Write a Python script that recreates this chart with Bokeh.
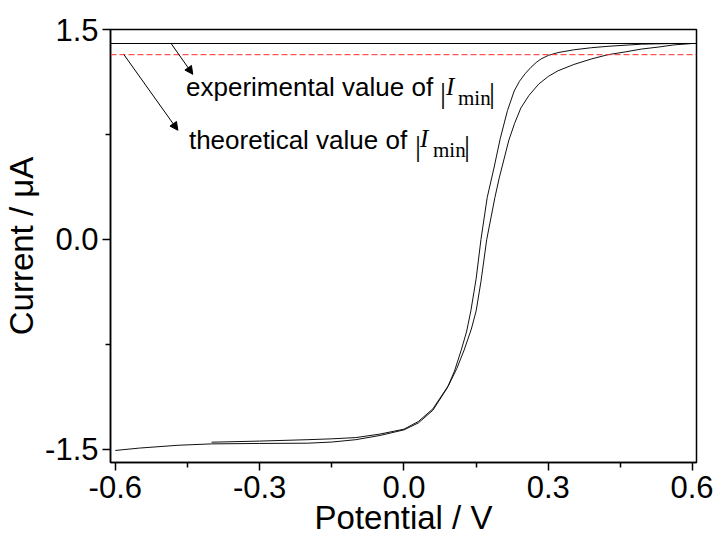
from bokeh.plotting import figure
from bokeh.models import (Range1d, FixedTicker, Span, Arrow, NormalHead, Label)
from bokeh.embed import file_html
from bokeh.resources import INLINE

# ---------------- data ----------------
fwd_x = [-0.40, -0.30, -0.20, -0.15, -0.10, -0.05, 0.00, 0.03, 0.06, 0.093, 0.11,
         0.125, 0.14, 0.15, 0.16, 0.172, 0.189, 0.198, 0.218, 0.23, 0.243, 0.26,
         0.28, 0.30, 0.32, 0.353, 0.39, 0.424, 0.46, 0.493, 0.53, 0.561, 0.60]
fwd_y = [-1.448, -1.44, -1.43, -1.424, -1.415, -1.39, -1.355, -1.30, -1.21, -1.04, -0.92,
         -0.79, -0.64, -0.51, -0.30, 0.0, 0.30, 0.44, 0.71, 0.83, 0.94, 1.03,
         1.11, 1.165, 1.205, 1.25, 1.29, 1.32, 1.34, 1.36, 1.375, 1.39, 1.40]

rev_x = [0.60, 0.56, 0.493, 0.424, 0.39, 0.353, 0.32, 0.30, 0.285, 0.275, 0.264,
         0.252, 0.24, 0.229, 0.215, 0.20, 0.187, 0.173, 0.16, 0.15, 0.139, 0.13,
         0.119, 0.105, 0.09, 0.06, 0.03, 0.00, -0.05, -0.10, -0.15, -0.20, -0.30,
         -0.40, -0.47, -0.55, -0.60]
rev_y = [1.40, 1.40, 1.395, 1.38, 1.37, 1.355, 1.335, 1.315, 1.29, 1.265, 1.23,
         1.185, 1.13, 1.06, 0.92, 0.72, 0.51, 0.30, 0.0, -0.28, -0.51, -0.66,
         -0.79, -0.94, -1.06, -1.22, -1.31, -1.36, -1.40, -1.43, -1.447, -1.455, -1.457,
         -1.46, -1.47, -1.49, -1.507]

exp_imin = 1.40     # experimental value of |I_min|
theo_imin = 1.32    # theoretical value of |I_min|

x_ticks = [-0.6, -0.3, 0.0, 0.3, 0.6]
x_tick_labels = ["-0.6", "-0.3", "0.0", "0.3", "0.6"]
x_minor = [-0.45, -0.15, 0.15, 0.45]
y_ticks = [-1.5, 0.0, 1.5]
y_tick_labels = ["-1.5", "0.0", "1.5"]
y_minor = [-0.75, 0.75]

x_label = "Potential / V"
y_label = "Current / \u03bcA"
exp_text = "experimental value of"
theo_text = "theoretical value of"

FONT = "Liberation Sans"
SERIF = "Liberation Serif"

p = figure(width=713, height=541, output_backend="svg", toolbar_location=None,
           x_range=Range1d(-0.61, 0.608), y_range=Range1d(-1.593, 1.5),
           min_border_left=110, min_border_right=17, min_border_top=29,
           min_border_bottom=79)
p.background_fill_color = "white"
p.border_fill_color = "white"
p.outline_line_color = "black"
p.outline_line_width = 1.5
p.xgrid.visible = False
p.ygrid.visible = False

for ax, ticks, labels, minor, title in ((p.xaxis[0], x_ticks, x_tick_labels, x_minor, x_label),
                                        (p.yaxis[0], y_ticks, y_tick_labels, y_minor, y_label)):
    ax.ticker = FixedTicker(ticks=ticks, minor_ticks=minor)
    ax.major_label_overrides = {t: s for t, s in zip(ticks, labels)}
    ax.axis_label = title
    ax.axis_label_text_font = FONT
    ax.axis_label_text_font_size = "33px"
    ax.axis_label_text_font_style = "normal"
    ax.axis_label_text_color = "black"
    ax.major_label_text_font = FONT
    ax.major_label_text_font_size = "31px"
    ax.major_label_text_color = "black"
    ax.axis_line_color = "black"
    ax.axis_line_width = 1.5
    ax.major_tick_line_color = "black"
    ax.major_tick_line_width = 1.5
    ax.minor_tick_line_color = "black"
    ax.minor_tick_line_width = 1.5
    ax.major_tick_out = 8
    ax.major_tick_in = 0
    ax.minor_tick_out = 5
    ax.minor_tick_in = 0

p.xaxis[0].major_label_standoff = 5
p.xaxis[0].axis_label_standoff = -2
p.yaxis[0].major_label_standoff = 4
p.yaxis[0].axis_label_standoff = 2

# curves
p.line(fwd_x, fwd_y, line_color="#111111", line_width=1)
p.line(rev_x, rev_y, line_color="#111111", line_width=1)

# reference lines
p.add_layout(Span(location=exp_imin, dimension="width", line_color="black", line_width=1))
p.add_layout(Span(location=theo_imin, dimension="width", line_color="#ff2a2a",
                  line_width=1, line_dash="6 3"))

# arrows
p.add_layout(Arrow(end=NormalHead(size=8, fill_color="black", line_color="black"),
                   x_start=-0.484, y_start=exp_imin, x_end=-0.439, y_end=1.18,
                   line_color="black", line_width=1))
p.add_layout(Arrow(end=NormalHead(size=8, fill_color="black", line_color="black"),
                   x_start=-0.582, y_start=theo_imin, x_end=-0.470, y_end=0.78,
                   line_color="black", line_width=1))

def lab(x, y, text, font=FONT, size="26px", style="normal"):
    p.add_layout(Label(x=x, y=y, text=text, text_font=font, text_font_size=size,
                       text_font_style=style, text_color="black",
                       text_baseline="alphabetic", text_align="left"))

# annotation texts
lab(-0.453, 1.092, exp_text)
lab(0.0748, 1.049, "|", SERIF, "30px")
lab(0.0874, 1.092, "I", SERIF, "25px", "italic")
lab(0.1123, 1.013, "min", SERIF, "21px")
lab(0.1767, 1.049, "|", SERIF, "30px")

lab(-0.447, 0.713, theo_text)
lab(0.0229, 0.670, "|", SERIF, "30px")
lab(0.0333, 0.720, "I", SERIF, "25px", "italic")
lab(0.0603, 0.642, "min", SERIF, "21px")
lab(0.1247, 0.670, "|", SERIF, "30px")

open("out.html", "w").write(file_html(p, INLINE))
